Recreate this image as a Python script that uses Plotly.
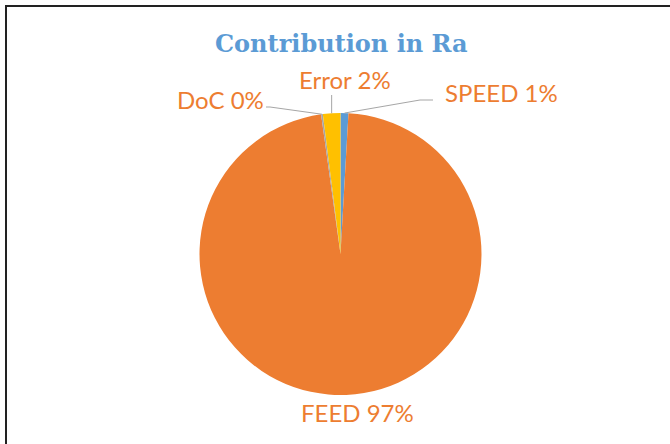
import math
import plotly.graph_objects as go

# ---- data ----
categories = ["SPEED", "FEED", "DoC", "Error"]
values = [0.9, 96.9, 0.2, 2.0]
label_pct = ["1%", "97%", "0%", "2%"]
colors = ["#5B9BD5", "#ED7D31", "#A5A5A5", "#FFC000"]
title_text = "Contribution in Ra"

# ---- layout constants (pixels) ----
W, H = 670, 444
CX, CY, R = 340.5, 254.0, 141.0


def px(x):
    return x / W


def py(y):
    return 1 - y / H


fig = go.Figure(go.Pie(
    labels=categories,
    values=values,
    sort=False,
    direction="clockwise",
    rotation=0,
    marker=dict(colors=colors, line=dict(width=0)),
    textinfo="none",
    hoverinfo="label+percent",
    showlegend=False,
    domain=dict(x=[px(CX - R), px(CX + R)], y=[py(CY + R), py(CY - R)]),
))

# anchor points on the rim, computed from the data
total = sum(values)
anchors = []
cum = 0.0
for v in values:
    mid = (cum + v / 2) / total
    th = 2 * math.pi * mid
    anchors.append((CX + R * math.sin(th), CY - R * math.cos(th)))
    cum += v

# label placement (pixels): (x, y, xanchor, elbow points from anchor)
label_pos = {
    "SPEED": (443, 92, "left", [(420, 100), (433, 100)]),
    "FEED": (357, 412, "center", None),
    "DoC": (266, 99, "right", [(270, 107), (266, 107)]),
    "Error": (345, 80, "center", [(None, 95)]),
}

annotations = []
shapes = []
for i, cat in enumerate(categories):
    x, y, xa, path = label_pos[cat]
    annotations.append(dict(
        x=px(x), y=py(y), xref="paper", yref="paper",
        text=f"{cat} {label_pct[i]}", showarrow=False,
        xanchor=xa, yanchor="middle",
        font=dict(family="Lato", size=24, color="#ED7D31"),
    ))
    if path:
        ax0, ay0 = anchors[i]
        pts = [(ax0, ay0)] + [((ax0 if p[0] is None else p[0]), p[1]) for p in path]
        d = "M " + " L ".join(f"{px(a)} {py(b)}" for a, b in pts)
        shapes.append(dict(type="path", path=d, xref="paper", yref="paper",
                           line=dict(color="#A6A6A6", width=1)))

annotations.append(dict(
    x=px(341.5), y=py(43), xref="paper", yref="paper",
    text=f"<b>{title_text}</b>", showarrow=False,
    xanchor="center", yanchor="middle",
    font=dict(family="DejaVu Serif", size=24, color="#5B9BD5"),
))

# outer frame (left and top edges visible)
shapes.append(dict(type="path", xref="paper", yref="paper",
                   path=f"M {px(6)} {py(470)} L {px(6)} {py(6)} L {px(700)} {py(6)}",
                   line=dict(color="#222222", width=2)))

fig.update_layout(
    width=W, height=H,
    margin=dict(l=0, r=0, t=0, b=0),
    paper_bgcolor="white",
    plot_bgcolor="white",
    annotations=annotations,
    shapes=shapes,
)

fig.write_html(
    "out.html",
    config={"displayModeBar": False},
    post_script="document.body.style.margin='0';document.body.style.overflow='hidden';",
)
